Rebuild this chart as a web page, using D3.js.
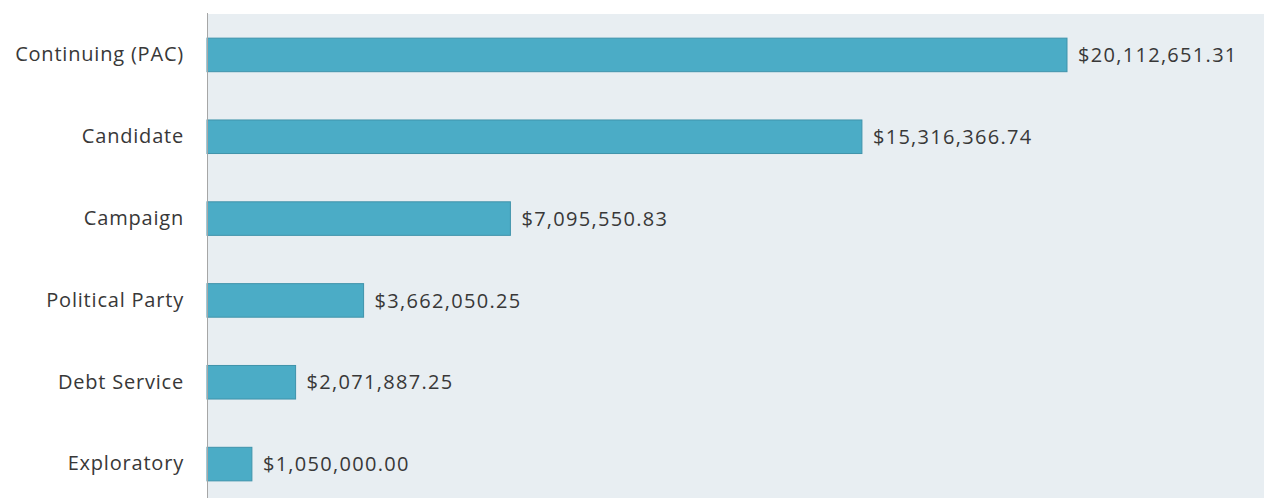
<!DOCTYPE html>
<html>
<head>
<meta charset="utf-8">
<script src="https://cdn.jsdelivr.net/npm/d3@7"></script>
<style>
  html, body { margin: 0; padding: 0; background: #ffffff; }
  svg { display: block; }
</style>
</head>
<body>
<svg id="chart" width="1264" height="498"></svg>
<script>
// Contributions by committee type
const categories = ["Continuing (PAC)", "Candidate", "Campaign", "Political Party", "Debt Service", "Exploratory"];
const amounts = [20112651.31, 15316366.74, 7095550.83, 3662050.25, 2071887.25, 1050000.00];

const width = 1264, height = 498;
const plot = { left: 207, top: 14, right: 1264, bottom: 505 };
const fontFamily = "'Open Sans', Lato, sans-serif";
const fontSize = 20;

const svg = d3.select("#chart");

// plot area background
svg.append("rect")
  .attr("x", plot.left).attr("y", plot.top)
  .attr("width", plot.right - plot.left).attr("height", height - plot.top)
  .attr("fill", "#e8eef2");

const x = d3.scaleLinear().domain([0, 20112651.31]).range([plot.left, 1067]);
const y = d3.scaleBand().domain(categories).range([plot.top, plot.bottom]).paddingInner(0.59).paddingOuter(0.295);

const fmt = v => "$" + d3.format(",.2f")(v);

const data = categories.map((c, i) => ({ c, v: amounts[i] }));

svg.append("g").selectAll("rect")
  .data(data).join("rect")
  .attr("x", x(0))
  .attr("y", d => y(d.c))
  .attr("width", d => x(d.v) - x(0))
  .attr("height", y.bandwidth())
  .attr("fill", "#4bacc6")
  .attr("stroke", "#3f93ab")
  .attr("stroke-width", 1);

svg.append("g").selectAll("text")
  .data(data).join("text")
  .attr("x", d => x(d.v) + 11)
  .attr("y", d => y(d.c) + y.bandwidth() / 2)
  .attr("dy", "0.36em")
  .attr("font-family", fontFamily)
  .attr("font-size", fontSize)
  .attr("letter-spacing", 1.3)
  .attr("fill", "#383838")
  .text(d => fmt(d.v));

// category axis
const axis = d3.axisLeft(y).tickSize(0).tickPadding(23);
const g = svg.append("g").attr("transform", `translate(${plot.left},0)`).call(axis);
g.select(".domain").remove();
g.selectAll("text")
  .attr("font-family", fontFamily)
  .attr("font-size", fontSize)
  .attr("letter-spacing", 0.8)
  .attr("fill", "#383838");

svg.append("line")
  .attr("x1", plot.left + 0.5).attr("x2", plot.left + 0.5)
  .attr("y1", 13).attr("y2", height)
  .attr("stroke", "#a6a6a6").attr("stroke-width", 1);
</script>
</body>
</html>
